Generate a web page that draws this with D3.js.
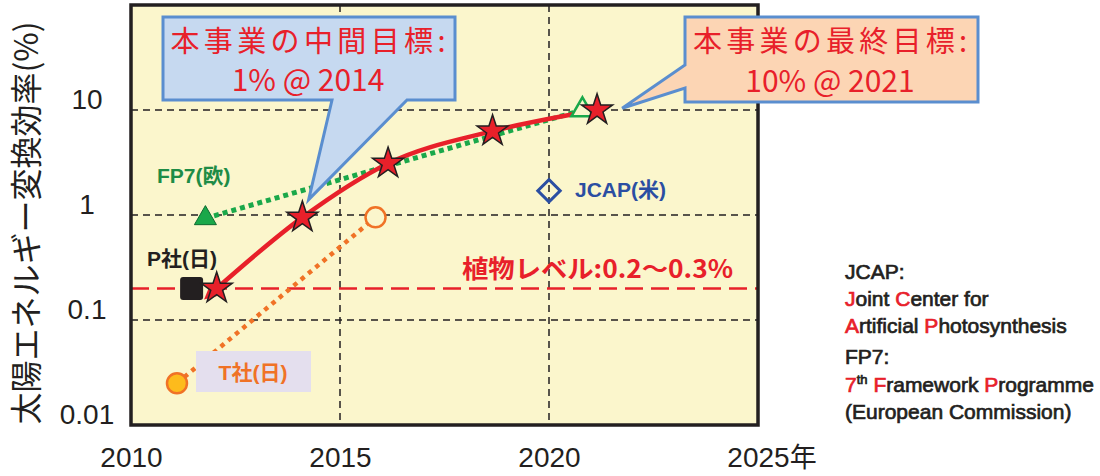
<!DOCTYPE html>
<html>
<head>
<meta charset="utf-8">
<script src="https://cdn.jsdelivr.net/npm/d3@7"></script>
<style>
  body { margin: 0; background: #fff; }
  svg { display: block; }
</style>
</head>
<body>
<div id="chart"></div>
<script>
// values
var xTicks = [2010, 2015, 2020, 2025];
var yTicks = [0.01, 0.1, 1, 10];
var yTickLabels = ["0.01", "0.1", "1", "10"];
var gridYears = [2015, 2020];
var gridValues = [0.1, 1, 10];

// this project (red stars)
var projYears = [2012.05, 2014.1, 2016.15, 2018.65, 2021.15];
var projValues = [0.2, 0.95, 3.1, 6.3, 10];

// FP7 (EU): achieved, then target
var fp7Years = [2011.78, 2020.8];
var fp7Values = [0.93, 10];

// T company (JP): achieved, then target
var tYears = [2011.1, 2015.85];
var tValues = [0.025, 0.95];

// P company (JP)
var pYears = [2011.45];
var pValues = [0.2];

// JCAP (US)
var jcapYears = [2020.0];
var jcapValues = [1.7];

// plant level
var plantLevel = [0.2];

// where the two callouts point
var midTip = [2014.25, 1.4];
var finalTip = [2021.75, 10.4];

var red = "#e8202a",
    ink = "#231f20",
    green = "#1aa84a",
    orange = "#f07226",
    blue = "#2b4ea2";

var width = 1100,
    height = 476;

var svg = d3.select("#chart")
  .append("svg")
    .attr("width", width)
    .attr("height", height);

// scales
var x = d3.scaleLinear()
  .domain([2010, 2025])
  .range([131, 758]);
var y = d3.scaleLog()
  .domain([0.01, 100])
  .range([425, 5]);

// plot background
svg.append("rect")
  .attr("x", x(2010))
  .attr("y", y(100))
  .attr("width", x(2025) - x(2010))
  .attr("height", y(0.01) - y(100))
  .attr("fill", "#fbf6cc");

// dashed grid
svg.selectAll("vgrid")
  .data(gridYears)
  .enter()
  .append("line")
    .attr("x1", function(d) { return x(d); })
    .attr("x2", function(d) { return x(d); })
    .attr("y1", y(100))
    .attr("y2", y(0.01))
    .attr("stroke", ink)
    .attr("stroke-width", 1.5)
    .attr("stroke-dasharray", "7,5");
svg.selectAll("hgrid")
  .data(gridValues)
  .enter()
  .append("line")
    .attr("x1", x(2010))
    .attr("x2", x(2025))
    .attr("y1", function(d) { return y(d); })
    .attr("y2", function(d) { return y(d); })
    .attr("stroke", ink)
    .attr("stroke-width", 1.5)
    .attr("stroke-dasharray", "7,5");

// x axis
var xAxis = svg.append("g")
  .attr("transform", "translate(0," + y(0.01) + ")")
  .call(d3.axisBottom(x).tickValues(xTicks).tickSize(0).tickPadding(22).tickFormat(d3.format("d")))
  .attr("font-family", "'Liberation Sans', Arial, sans-serif")
  .attr("font-size", 28);
xAxis.select(".domain").remove();
xAxis.selectAll("text").attr("fill", ink);
var lastTick = xAxis.selectAll(".tick text").filter(function(d) { return d === 2025; });
var lastW = lastTick.node().getComputedTextLength();
lastTick
  .attr("text-anchor", "start")
  .attr("x", -lastW / 2)
  .append("tspan")
    .attr("font-family", "'Noto Sans CJK JP', sans-serif")
    .attr("font-size", 27)
    .text("年");

// y axis
var yAxis = svg.append("g")
  .attr("transform", "translate(" + x(2010) + ",0)")
  .call(d3.axisLeft(y).tickValues(yTicks).tickSize(0).tickFormat(function(d, i) { return yTickLabels[i]; }))
  .attr("font-family", "'Liberation Sans', Arial, sans-serif")
  .attr("font-size", 28);
yAxis.select(".domain").remove();
yAxis.selectAll("text")
  .attr("x", -44)
  .attr("dy", -2)
  .attr("text-anchor", "middle")
  .attr("fill", ink);

// y axis title
svg.append("text")
  .attr("transform", "translate(26,223) rotate(-90)")
  .attr("text-anchor", "middle")
  .attr("dy", "0.36em")
  .attr("font-family", "'Noto Sans CJK JP', sans-serif")
  .attr("font-size", 32)
  .attr("fill", ink)
  .text("太陽エネルギー変換効率(%)");

// plant level line and its label
svg.selectAll("plant")
  .data(plantLevel)
  .enter()
  .append("line")
    .attr("x1", x(2010))
    .attr("x2", x(2025))
    .attr("y1", function(d) { return y(d); })
    .attr("y2", function(d) { return y(d); })
    .attr("stroke", red)
    .attr("stroke-width", 2.5)
    .attr("stroke-dasharray", "18,8");
svg.append("text")
  .attr("x", 462)
  .attr("y", 278)
  .attr("font-family", "'Noto Sans CJK JP', sans-serif")
  .attr("font-weight", "bold")
  .attr("font-size", 25)
  .attr("textLength", 271)
  .attr("lengthAdjust", "spacingAndGlyphs")
  .attr("fill", red)
  .text("植物レベル:0.2〜0.3%");

var line = d3.line()
  .x(function(d) { return x(d[0]); })
  .y(function(d) { return y(d[1]); });

// T company dotted line
svg.append("path")
  .datum(d3.zip(tYears, tValues))
  .attr("d", line)
  .attr("fill", "none")
  .attr("stroke", orange)
  .attr("stroke-width", 4.5)
  .attr("stroke-dasharray", "4.5,5");

// FP7 dotted line
svg.append("path")
  .datum(d3.zip(fp7Years, fp7Values))
  .attr("d", line)
  .attr("fill", "none")
  .attr("stroke", green)
  .attr("stroke-width", 5)
  .attr("stroke-dasharray", "5,4");

// arrow head for the red curve
svg.append("defs").append("marker")
  .attr("id", "arrow")
  .attr("markerUnits", "userSpaceOnUse")
  .attr("viewBox", "0 0 10 10")
  .attr("refX", -2)
  .attr("refY", 5)
  .attr("markerWidth", 16)
  .attr("markerHeight", 14)
  .attr("orient", "auto-start-reverse")
  .append("path")
    .attr("d", "M0,0 L10,5 L0,10 z")
    .attr("fill", red);

// this project curve
svg.append("path")
  .datum(d3.zip(projYears, projValues))
  .attr("d", line.curve(d3.curveMonotoneX))
  .attr("fill", "none")
  .attr("stroke", red)
  .attr("stroke-width", 4.5)
  .attr("marker-start", "url(#arrow)");
line.curve(d3.curveLinear);

// T company points: achieved (filled) and target (hollow)
svg.selectAll("tpts")
  .data(d3.zip(tYears, tValues))
  .enter()
  .append("circle")
    .attr("cx", function(d) { return x(d[0]); })
    .attr("cy", function(d) { return y(d[1]); })
    .attr("r", 10)
    .attr("fill", function(d, i) { return i === 0 ? "#fdbb1c" : "#fbf6cc"; })
    .attr("stroke", orange)
    .attr("stroke-width", 2.5);

// FP7 points: achieved (filled) and target (hollow)
svg.selectAll("fp7pts")
  .data(d3.zip(fp7Years, fp7Values))
  .enter()
  .append("path")
    .attr("transform", function(d) { return "translate(" + x(d[0]) + "," + y(d[1]) + ")"; })
    .attr("d", d3.symbol().type(d3.symbolTriangle).size(210))
    .attr("fill", function(d, i) { return i === 0 ? green : "#fbf6cc"; })
    .attr("stroke", function(d, i) { return i === 0 ? "#0d6a30" : green; })
    .attr("stroke-width", function(d, i) { return i === 0 ? 1 : 2.5; });

// P company square
svg.selectAll("ppts")
  .data(d3.zip(pYears, pValues))
  .enter()
  .append("rect")
    .attr("x", function(d) { return x(d[0]) - 11.5; })
    .attr("y", function(d) { return y(d[1]) - 11.5; })
    .attr("width", 23)
    .attr("height", 23)
    .attr("rx", 3)
    .attr("fill", ink);

// JCAP diamond
svg.selectAll("jcappts")
  .data(d3.zip(jcapYears, jcapValues))
  .enter()
  .append("path")
    .attr("transform", function(d) { return "translate(" + x(d[0]) + "," + y(d[1]) + ") rotate(45)"; })
    .attr("d", d3.symbol().type(d3.symbolSquare).size(250))
    .attr("fill", "none")
    .attr("stroke", blue)
    .attr("stroke-width", 3);

// this project stars
svg.selectAll("stars")
  .data(d3.zip(projYears, projValues))
  .enter()
  .append("path")
    .attr("transform", function(d) { return "translate(" + x(d[0]) + "," + y(d[1]) + ")"; })
    .attr("d", d3.symbol().type(d3.symbolStar).size(300))
    .attr("fill", red)
    .attr("stroke", ink)
    .attr("stroke-width", 1.5)
    .attr("stroke-linejoin", "miter");

// series labels
var labelFont = "'Liberation Sans', 'Noto Sans CJK JP', sans-serif";
svg.append("text")
  .attr("x", 157).attr("y", 183)
  .attr("font-family", labelFont).attr("font-weight", "bold").attr("font-size", 21)
  .attr("fill", "#1e8c46")
  .text("FP7(欧)");
svg.append("text")
  .attr("x", 147).attr("y", 266)
  .attr("font-family", labelFont).attr("font-weight", "bold").attr("font-size", 21)
  .attr("fill", ink)
  .text("P社(日)");
svg.append("text")
  .attr("x", 575).attr("y", 197)
  .attr("font-family", labelFont).attr("font-weight", "bold").attr("font-size", 21)
  .attr("fill", blue)
  .text("JCAP(米)");
svg.append("rect")
  .attr("x", 196).attr("y", 351)
  .attr("width", 115).attr("height", 41)
  .attr("fill", "#e4dfee");
svg.append("text")
  .attr("x", 253).attr("y", 380)
  .attr("text-anchor", "middle")
  .attr("font-family", labelFont).attr("font-weight", "bold").attr("font-size", 21)
  .attr("fill", orange)
  .text("T社(日)");

// plot border
svg.append("rect")
  .attr("x", x(2010))
  .attr("y", y(100))
  .attr("width", x(2025) - x(2010))
  .attr("height", y(0.01) - y(100))
  .attr("fill", "none")
  .attr("stroke", ink)
  .attr("stroke-width", 3.5);

// callout: mid-term goal
var t1 = [x(midTip[0]), y(midTip[1])];
svg.append("path")
  .attr("d", "M163,17 H455 V100 H407 L" + t1[0] + "," + t1[1] + " L332,100 H163 Z")
  .attr("fill", "#c6d9f0")
  .attr("stroke", "#5a8ecf")
  .attr("stroke-width", 3);
svg.append("text")
  .attr("x", 308).attr("y", 52)
  .attr("text-anchor", "middle")
  .attr("font-family", "'Noto Sans CJK JP', sans-serif").attr("font-size", 29)
  .attr("textLength", 275).attr("lengthAdjust", "spacing")
  .attr("fill", red)
  .text("本事業の中間目標:");
svg.append("text")
  .attr("x", 308).attr("y", 91)
  .attr("text-anchor", "middle")
  .attr("font-family", "'Noto Sans CJK JP', sans-serif").attr("font-size", 30)
  .attr("fill", red)
  .text("1% @ 2014");

// callout: final goal
var t2 = [x(finalTip[0]), y(finalTip[1])];
svg.append("path")
  .attr("d", "M685,17 H978 V102 H685 V88 L" + t2[0] + "," + t2[1] + " L685,65 Z")
  .attr("fill", "#fcd5b4")
  .attr("stroke", "#5a8ecf")
  .attr("stroke-width", 3);
svg.append("text")
  .attr("x", 830).attr("y", 52)
  .attr("text-anchor", "middle")
  .attr("font-family", "'Noto Sans CJK JP', sans-serif").attr("font-size", 29)
  .attr("textLength", 274).attr("lengthAdjust", "spacing")
  .attr("fill", red)
  .text("本事業の最終目標:");
svg.append("text")
  .attr("x", 830).attr("y", 92)
  .attr("text-anchor", "middle")
  .attr("font-family", "'Noto Sans CJK JP', sans-serif").attr("font-size", 30)
  .attr("fill", red)
  .text("10% @ 2021");

// notes on the right (0 = black, 1 = red initial, 2 = superscript)
var noteLines = [
  [["JCAP:", 0]],
  [["J", 1], ["oint ", 0], ["C", 1], ["enter for", 0]],
  [["A", 1], ["rtificial ", 0], ["P", 1], ["hotosynthesis", 0]],
  [["FP7:", 0]],
  [["7", 1], ["th", 2], [" ", 0], ["F", 1], ["ramework ", 0], ["P", 1], ["rogramme", 0]],
  [["(European Commission)", 0]]
];
var noteBaselines = [279, 306, 333, 364, 392, 419];

noteLines.forEach(function(parts, i) {
  var t = svg.append("text")
    .attr("x", 845)
    .attr("y", noteBaselines[i])
    .attr("font-family", "'Liberation Sans', Arial, sans-serif")
    .attr("font-size", 21)
    .style("white-space", "pre");
  var up = false;
  parts.forEach(function(p) {
    var s = t.append("tspan").text(p[0])
      .attr("fill", p[1] === 1 ? red : ink)
      .attr("stroke", p[1] === 1 ? red : ink)
      .attr("stroke-width", 0.7);
    if (p[1] === 2) {
      s.attr("font-size", 13).attr("dy", -8);
      up = true;
    } else if (up) {
      s.attr("dy", 8);
      up = false;
    }
  });
});
</script>
</body>
</html>
